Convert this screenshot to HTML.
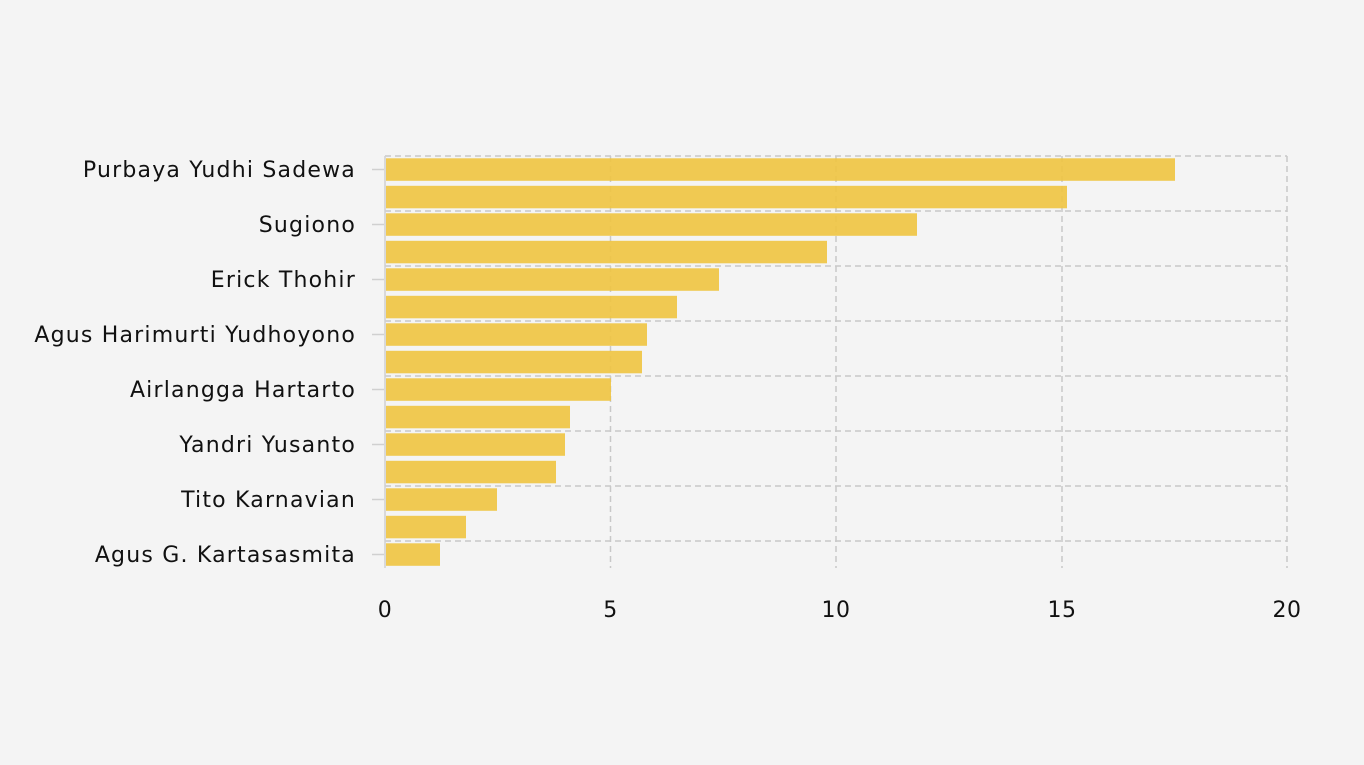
<!DOCTYPE html>
<html><head><style>
html,body{margin:0;padding:0;background:#f4f4f4;}
svg{display:block;}
text{font-family:"DejaVu Sans","Liberation Sans",sans-serif;font-size:22px;letter-spacing:1.2px;fill:#111;}
text.n{letter-spacing:0.5px;}
</style></head><body>
<svg width="1364" height="765" viewBox="0 0 1364 765">
<rect width="1364" height="765" fill="#f4f4f4"/>
<g stroke="#c8c8c8" stroke-width="1.5" stroke-dasharray="6,4" fill="none">
<line x1="385" y1="156" x2="1287" y2="156"/>
<line x1="385" y1="211" x2="1287" y2="211"/>
<line x1="385" y1="266" x2="1287" y2="266"/>
<line x1="385" y1="321" x2="1287" y2="321"/>
<line x1="385" y1="376" x2="1287" y2="376"/>
<line x1="385" y1="431" x2="1287" y2="431"/>
<line x1="385" y1="486" x2="1287" y2="486"/>
<line x1="385" y1="541" x2="1287" y2="541"/>
<line x1="610.5" y1="156" x2="610.5" y2="568"/>
<line x1="836" y1="156" x2="836" y2="568"/>
<line x1="1062" y1="156" x2="1062" y2="568"/>
<line x1="1287" y1="156" x2="1287" y2="568"/>
</g>
<g fill="#efc440" fill-opacity="0.9">
<rect x="386" y="158.3" width="789" height="22.5"/>
<rect x="386" y="185.8" width="681" height="22.5"/>
<rect x="386" y="213.3" width="531" height="22.5"/>
<rect x="386" y="240.8" width="441" height="22.5"/>
<rect x="386" y="268.3" width="333" height="22.5"/>
<rect x="386" y="295.8" width="291" height="22.5"/>
<rect x="386" y="323.3" width="261" height="22.5"/>
<rect x="386" y="350.8" width="256" height="22.5"/>
<rect x="386" y="378.3" width="225" height="22.5"/>
<rect x="386" y="405.8" width="184" height="22.5"/>
<rect x="386" y="433.3" width="179" height="22.5"/>
<rect x="386" y="460.8" width="170" height="22.5"/>
<rect x="386" y="488.3" width="111" height="22.5"/>
<rect x="386" y="515.8" width="80" height="22.5"/>
<rect x="386" y="543.3" width="54" height="22.5"/>
</g>
<line x1="385" y1="156" x2="385" y2="568" stroke="#d0d0d0" stroke-width="1.5"/>
<g stroke="#d0d0d0" stroke-width="1.5">
<line x1="372" y1="169.5" x2="384" y2="169.5"/>
<line x1="372" y1="224.5" x2="384" y2="224.5"/>
<line x1="372" y1="279.5" x2="384" y2="279.5"/>
<line x1="372" y1="334.5" x2="384" y2="334.5"/>
<line x1="372" y1="389.5" x2="384" y2="389.5"/>
<line x1="372" y1="444.5" x2="384" y2="444.5"/>
<line x1="372" y1="499.5" x2="384" y2="499.5"/>
<line x1="372" y1="554.5" x2="384" y2="554.5"/>
</g>
<g text-anchor="end">
<text x="356" y="177">Purbaya Yudhi Sadewa</text>
<text x="356" y="232">Sugiono</text>
<text x="356" y="287">Erick Thohir</text>
<text x="356" y="342">Agus Harimurti Yudhoyono</text>
<text x="356" y="397">Airlangga Hartarto</text>
<text x="356" y="452">Yandri Yusanto</text>
<text x="356" y="507">Tito Karnavian</text>
<text x="356" y="562">Agus G. Kartasasmita</text>
</g>
<g text-anchor="middle">
<text class="n" x="385" y="617">0</text>
<text class="n" x="610.5" y="617">5</text>
<text class="n" x="836" y="617">10</text>
<text class="n" x="1062" y="617">15</text>
<text class="n" x="1287" y="617">20</text>
</g>
</svg>
</body></html>
